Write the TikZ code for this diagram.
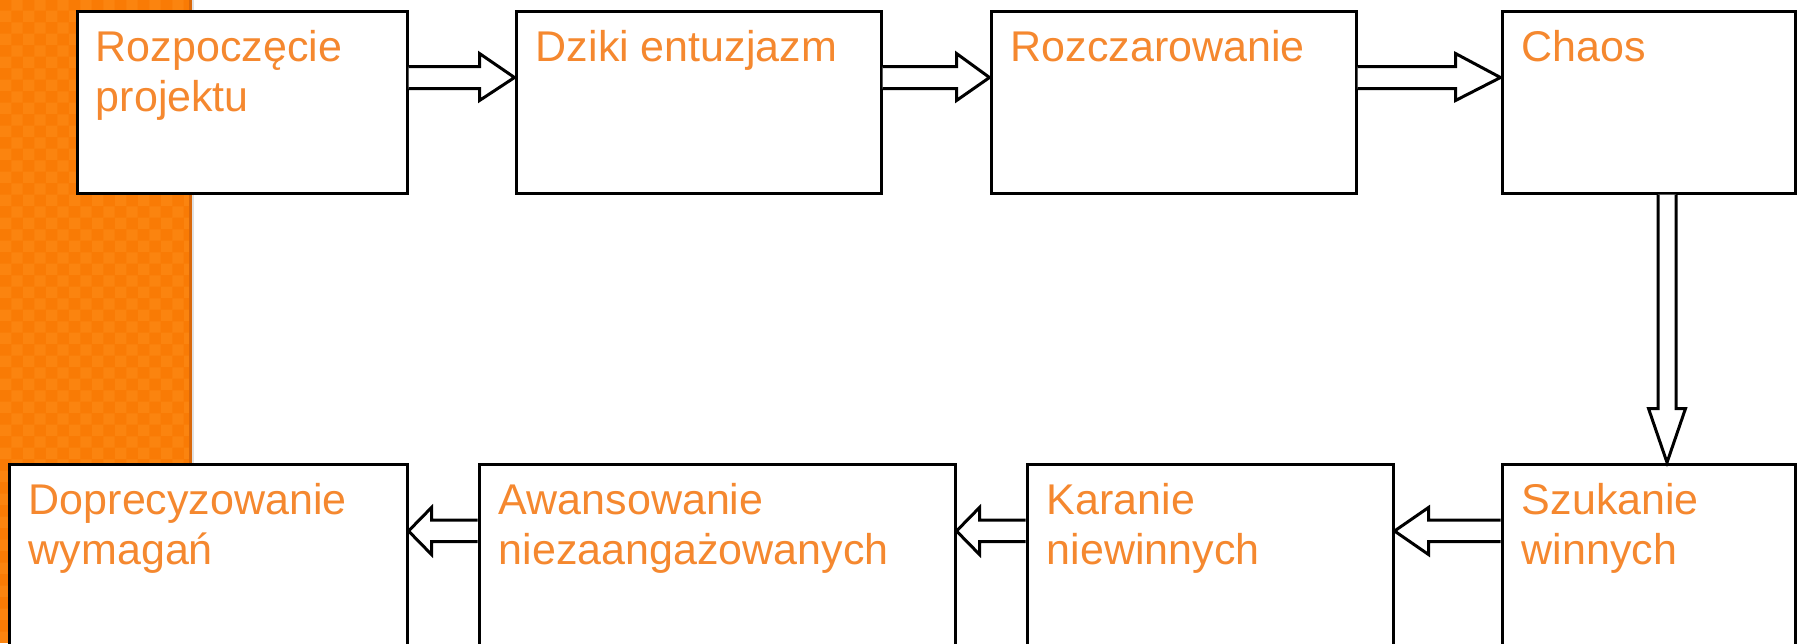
\documentclass[tikz,border=0pt]{standalone}
\usepackage{fontspec}
\setmainfont{Liberation Sans}
\usetikzlibrary{calc,patterns}
\definecolor{bandor}{HTML}{F97B05}
\definecolor{bandor2}{HTML}{FB840F}
\definecolor{bandedge}{HTML}{D9680A}
\definecolor{txtor}{HTML}{F5882F}
\tikzset{
  stagebox/.style={draw=black, fill=white, line width=1.5pt, rectangle, inner sep=0pt, minimum height=91pt},
  lowbox/.style={draw=black, fill=white, line width=1.5pt, rectangle, inner sep=0pt, minimum height=118pt},
  lbl/.style={text=txtor, font=\fontsize{21.5}{25}\selectfont, inner sep=0pt, anchor=base west},
  blk/.style={draw=black, fill=white, line width=1.5pt, line join=miter},
}
\newcommand\twolines[2]{\begin{tabular}[t]{@{}l@{}}#1\\#2\end{tabular}}
% right-pointing block arrow between top-row boxes; #3 = head length (px)
\newcommand\rblk[3]{%
  \draw[blk] ($(#1.north east)+(0,57)$) -- ($(#2.north west)+(-#3,57)$) -- ($(#2.north west)+(-#3,44)$)
    -- ($(#2.north west)+(0,68)$) -- ($(#2.north west)+(-#3,91)$) -- ($(#2.north west)+(-#3,79)$)
    -- ($(#1.north east)+(0,79)$);}
% left-pointing block arrow between bottom-row boxes (from right box #1 to left box #2)
\newcommand\lblk[3]{%
  \draw[blk] ($(#1.north west)+(0,57.5)$) -- ($(#2.north east)+(#3,57.5)$) -- ($(#2.north east)+(#3,45)$)
    -- ($(#2.north east)+(0,68.5)$) -- ($(#2.north east)+(#3,92)$) -- ($(#2.north east)+(#3,79)$)
    -- ($(#1.north west)+(0,79)$);}
\begin{document}
\begin{tikzpicture}[x=0.5pt,y=-0.5pt]
\useasboundingbox (0,0) rectangle (1802,643);
\clip (0,0) rectangle (1802,643);
% orange band
\fill[bandor] (0,0) rectangle (192,643);
\fill[pattern=checkerboard, pattern color=bandor2] (0,0) rectangle (189,643);
\fill[bandedge] (189,0) rectangle (192,643);
\fill[black!12] (192,0) rectangle (194,643);
% top row
\node[stagebox, minimum width=165pt] (b1) at (242,102) {};
\node[stagebox, minimum width=182.5pt] (b2) at (698.5,102) {};
\node[stagebox, minimum width=182.5pt] (b3) at (1173.5,102) {};
\node[stagebox, minimum width=146.5pt] (b4) at (1648.5,102) {};
% bottom row
\node[lowbox, minimum width=199pt] (b5) at (208,582) {};
\node[lowbox, minimum width=238pt] (b6) at (717,582) {};
\node[lowbox, minimum width=183pt] (b7) at (1210,582) {};
\node[lowbox, minimum width=146.5pt] (b8) at (1648.5,582) {};
% texts
\node[lbl] (t1) at ($(b1.north west)+(20,52)$) {\twolines{Rozpoczęcie}{projektu}};
\node[lbl] (t2) at ($(b2.north west)+(21,52)$) {Dziki entuzjazm};
\node[lbl] (t3) at ($(b3.north west)+(21,52)$) {Rozczarowanie};
\node[lbl] (t4) at ($(b4.north west)+(21,52)$) {Chaos};
\node[lbl] (t5) at ($(b5.north west)+(21,52)$) {\twolines{Doprecyzowanie}{wymagań}};
\node[lbl] (t6) at ($(b6.north west)+(21,52)$) {\twolines{Awansowanie}{niezaangażowanych}};
\node[lbl] (t7) at ($(b7.north west)+(21,52)$) {\twolines{Karanie}{niewinnych}};
\node[lbl] (t8) at ($(b8.north west)+(21,52)$) {\twolines{Szukanie}{winnych}};
% arrows
\rblk{b1}{b2}{35}
\rblk{b2}{b3}{33}
\rblk{b3}{b4}{45}
\lblk{b8}{b7}{34}
\lblk{b7}{b6}{23}
\lblk{b6}{b5}{23}
% vertical arrow
\draw[blk] ($(b4.south)+(9.5,0)$) -- ($(b8.north)+(9.5,-54)$) -- ($(b8.north)+(0,-54)$)
  -- ($(b8.north)+(18.5,0)$) -- ($(b8.north)+(37,-54)$) -- ($(b8.north)+(27.5,-54)$)
  -- ($(b4.south)+(27.5,0)$);
\end{tikzpicture}
\end{document}
